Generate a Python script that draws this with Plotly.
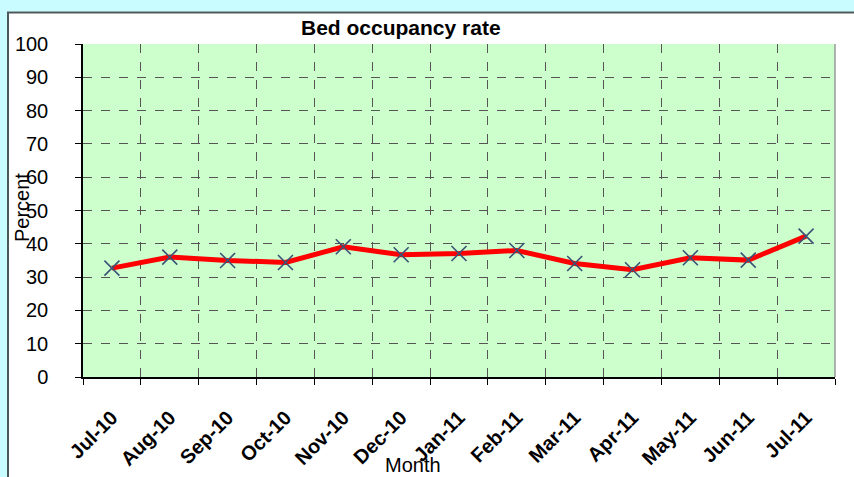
import plotly.graph_objects as go

months = ["Jul-10", "Aug-10", "Sep-10", "Oct-10", "Nov-10", "Dec-10", "Jan-11",
          "Feb-11", "Mar-11", "Apr-11", "May-11", "Jun-11", "Jul-11"]
rate = [32.7, 36.0, 35.0, 34.4, 39.1, 36.7, 37.1, 38.0, 34.1, 32.2, 35.8, 35.1, 42.3]
y_ticks = [0, 10, 20, 30, 40, 50, 60, 70, 80, 90, 100]

W, H = 854, 477
L, R, T, B = 83, 19, 44, 100
pw, ph = W - L - R, H - T - B

def px_x(p):
    return (p - L) / pw

def px_y(p):
    return (H - B - p) / ph

FONT = "Liberation Sans, Arial, sans-serif"

fig = go.Figure()
fig.add_trace(go.Scatter(
    x=months, y=rate, mode="lines+markers",
    line=dict(color="#FF0000", width=5),
    marker=dict(symbol="x-thin", size=15, line=dict(color="#3A5276", width=1.6)),
    showlegend=False, hoverinfo="x+y",
))

shapes = [
    # outer cyan strips
    dict(type="rect", xref="paper", yref="paper", x0=px_x(-5), x1=px_x(W + 5),
         y0=px_y(11.5), y1=px_y(-5), fillcolor="#C8FCFF", line=dict(width=0), layer="above"),
    dict(type="rect", xref="paper", yref="paper", x0=px_x(-5), x1=px_x(7),
         y0=px_y(H + 5), y1=px_y(-5), fillcolor="#C8FCFF", line=dict(width=0), layer="above"),
    # panel border
    dict(type="line", xref="paper", yref="paper", x0=px_x(7), x1=px_x(W + 5),
         y0=px_y(12.5), y1=px_y(12.5), line=dict(color="#4A5A5A", width=2), layer="above"),
    dict(type="line", xref="paper", yref="paper", x0=px_x(8), x1=px_x(8),
         y0=px_y(12), y1=px_y(H + 5), line=dict(color="#4A5A5A", width=2), layer="above"),
    # right border of plot area
    dict(type="line", xref="paper", yref="paper", x0=1, x1=1, y0=0, y1=1,
         line=dict(color="#9A9A9A", width=1.5), layer="above"),
]

annotations = [
    dict(text="<b>Bed occupancy rate</b>", x=px_x(401), y=px_y(28), xref="paper", yref="paper",
         xanchor="center", yanchor="middle", showarrow=False,
         font=dict(family=FONT, size=21, color="#000000")),
    dict(text="Month", x=px_x(413), y=px_y(465), xref="paper", yref="paper",
         xanchor="center", yanchor="middle", showarrow=False,
         font=dict(family=FONT, size=20, color="#000000")),
    dict(text="Percent", x=px_x(22), y=px_y(208), xref="paper", yref="paper",
         xanchor="center", yanchor="middle", showarrow=False, textangle=-90,
         font=dict(family=FONT, size=20, color="#000000")),
]

fig.update_layout(
    width=W, height=H,
    margin=dict(l=L, r=R, t=T, b=B, pad=0, autoexpand=False),
    paper_bgcolor="#FFFFFF",
    plot_bgcolor="#CCFFCC",
    font=dict(family=FONT, color="#000000"),
    shapes=shapes,
    annotations=annotations,
    xaxis=dict(
        type="category", range=[-0.5, 12.5], tickson="boundaries",
        showgrid=True, gridcolor="#555555", griddash="dash", gridwidth=1,
        showline=True, linecolor="#000000", linewidth=2,
        ticks="outside", ticklen=6, tickcolor="#000000", tickwidth=1,
        tickangle=-45, ticklabelstandoff=19, automargin=False,
        tickfont=dict(family=FONT, size=20, color="#000000", weight="bold"),
        zeroline=False, fixedrange=True,
    ),
    yaxis=dict(
        range=[0, 100], tickmode="array", tickvals=y_ticks,
        showgrid=True, gridcolor="#555555", griddash="dash", gridwidth=1,
        showline=True, linecolor="#000000", linewidth=1.5,
        ticks="outside", ticklen=6, tickcolor="#000000", tickwidth=1,
        ticklabelstandoff=23, automargin=False,
        tickfont=dict(family=FONT, size=20, color="#000000"),
        zeroline=False, fixedrange=True,
    ),
)

fig.write_html("out.html", config={"displayModeBar": False},
               post_script="document.body.style.margin='0px';document.body.style.padding='0px';")
